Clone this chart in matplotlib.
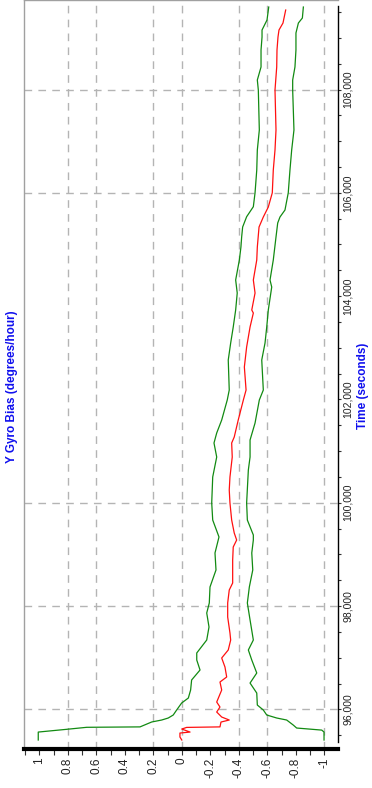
import matplotlib
matplotlib.use("Agg")
import matplotlib.pyplot as plt
from matplotlib.ticker import MultipleLocator, FixedLocator, FuncFormatter

plt.rcParams['font.family'] = ['Liberation Sans', 'DejaVu Sans']

# Estimated Y gyro bias (deg/hr) and its +/- 1 sigma envelope over time (s)
bias_time = [95406, 95464, 95541, 95560, 95618, 95650, 95660, 95754, 95793, 95851,
             95948, 96045, 96141, 96374, 96529, 96626, 96819, 96994, 97149, 97342,
             97478, 97787, 98059, 98310, 98446, 98891, 99143, 99278, 99414, 99665,
             99995, 100246, 100498, 100885, 101156, 101272, 101601, 101989, 102182,
             102628, 103015, 103402, 103673, 103731, 104060, 104312, 104700,
             104951, 105338, 105532, 105725, 106000, 106442, 106829, 107216,
             107990, 108436, 108765, 109016, 109152, 109287, 109539]
bias_value = [0.0, 0.013, 0.013, -0.058, 0.0, -0.034, -0.268, -0.275, -0.333, -0.280,
              -0.245, -0.268, -0.245, -0.280, -0.268, -0.315, -0.303, -0.280, -0.326, -0.343,
              -0.338, -0.322, -0.322, -0.333, -0.357, -0.357, -0.361, -0.385, -0.368, -0.350,
              -0.338, -0.333, -0.338, -0.354, -0.350, -0.368, -0.396, -0.432, -0.451,
              -0.439, -0.455, -0.479, -0.502, -0.491, -0.514, -0.502, -0.526,
              -0.530, -0.542, -0.572, -0.607, -0.635, -0.642, -0.654, -0.661,
              -0.654, -0.666, -0.668, -0.675, -0.682, -0.710, -0.729]

upper_time = [95406, 95560, 95613, 95652, 95660, 95755, 95793, 95832, 95890, 95987,
              96122, 96219, 96374, 96568, 96761, 96955, 97091, 97342, 97594, 97865,
              98059, 98369, 98698, 99027, 99337, 99665, 99995, 100498, 100885, 101156,
              101350, 101601, 101989, 102182, 102763, 103092, 103402, 103731, 104060,
              104312, 104700, 104951, 105144, 105338, 105537, 105731, 106000, 106442,
              106829, 107216, 107990, 108184, 108436, 108765, 109016, 109152, 109346,
              109597]
upper_value = [1.007, 1.007, 0.808, 0.667, 0.293, 0.211, 0.141, 0.095, 0.060, 0.036,
               0.001, -0.046, -0.062, -0.069, -0.128, -0.105, -0.105, -0.175, -0.191, -0.175,
               -0.193, -0.198, -0.240, -0.233, -0.261, -0.217, -0.210, -0.217, -0.245, -0.226,
               -0.245, -0.280, -0.319, -0.333, -0.326, -0.343, -0.361, -0.378, -0.389,
               -0.378, -0.404, -0.415, -0.420, -0.427, -0.455, -0.502, -0.514, -0.526,
               -0.530, -0.544, -0.537, -0.530, -0.556, -0.556, -0.563, -0.563, -0.598,
               -0.610]

lower_time = [95406, 95560, 95598, 95638, 95696, 95793, 95832, 95890, 95987, 96083,
              96315, 96509, 96703, 96955, 97149, 97342, 97730, 98059, 98369, 98698,
              99027, 99278, 99375, 99665, 99995, 100634, 100885, 101214, 101543, 101989,
              102182, 102763, 103092, 103402, 103731, 104176, 104312, 104700, 105144,
              105416, 105532, 105667, 106000, 106442, 106829, 107216, 107990, 108184,
              108436, 108765, 109094, 109287, 109384, 109597]
lower_value = [-0.998, -0.998, -0.982, -0.806, -0.782, -0.736, -0.666, -0.596, -0.572, -0.530,
               -0.526, -0.479, -0.526, -0.491, -0.467, -0.502, -0.479, -0.460, -0.474, -0.498,
               -0.491, -0.502, -0.502, -0.460, -0.455, -0.467, -0.479, -0.479, -0.514, -0.544,
               -0.572, -0.561, -0.584, -0.596, -0.607, -0.631, -0.619, -0.642, -0.661,
               -0.673, -0.689, -0.724, -0.747, -0.759, -0.771, -0.787, -0.778, -0.778,
               -0.794, -0.801, -0.801, -0.818, -0.846, -0.853]

value_ticks = [1, 0.8, 0.6, 0.4, 0.2, 0, -0.2, -0.4, -0.6, -0.8, -1]
value_grid = [0.8, 0.6, 0.2, 0, -0.4, -0.6, -1.0]
time_ticks = [96000, 98000, 100000, 102000, 104000, 106000, 108000]
time_grid = [96000, 98000, 100000, 106000, 108000]

green = '#128a12'
red = '#ff1010'
grid_color = '#b4b4b4'

fig = plt.figure(figsize=(3.72, 7.88), dpi=100)
ax = fig.add_axes([24 / 372, 39 / 788, 314 / 372, 749 / 788])

for v in value_grid:
    ax.axvline(v, color=grid_color, lw=1.0, ls=(0, (5.5, 4.5)), zorder=1)
for t in time_grid:
    ax.axhline(t, color=grid_color, lw=1.0, ls=(0, (5.5, 4.5)), zorder=1)

ax.plot(upper_value, upper_time, color=green, lw=0.9, zorder=3)
ax.plot(lower_value, lower_time, color=green, lw=0.9, zorder=3)
ax.plot(bias_value, bias_time, color=red, lw=0.9, zorder=4)

ax.set_xlim(1.107, -1.096)
ax.set_ylim(95232, 109733)

# spines
for side in ('top', 'left'):
    ax.spines[side].set_color('#a0a0a0')
    ax.spines[side].set_linewidth(1.0)
ax.spines['bottom'].set_color('black')
ax.spines['bottom'].set_linewidth(3.0)
ax.spines['right'].set_color('black')
ax.spines['right'].set_linewidth(1.0)
ax.spines['right'].set_bounds(95368, 109617)

# value axis along the bottom
ax.xaxis.set_major_locator(FixedLocator(value_ticks))
ax.xaxis.set_minor_locator(MultipleLocator(0.1))
ax.xaxis.set_major_formatter(FuncFormatter(lambda v, p: ('%g' % round(v, 1)).replace('-0', '-0') if v != 0 else '0'))
ax.tick_params(axis='x', which='both', direction='out', length=4.5, width=0.8,
               color='#333333', labelsize=8.5, labelcolor='#222222', pad=1.5,
               labelrotation=90)
for lab in ax.get_xticklabels():
    lab.set_va('top')
    lab.set_ha('center')

# time axis along the right
ax.yaxis.tick_right()
ax.yaxis.set_major_locator(FixedLocator(time_ticks))
ax.yaxis.set_minor_locator(MultipleLocator(500))
ax.yaxis.set_major_formatter(FuncFormatter(lambda t, p: f'{int(t):,}'))
ax.tick_params(axis='y', which='both', direction='out', length=2.5, width=0.8,
               color='#333333', labelsize=7.5, labelcolor='#222222', pad=1.0,
               labelrotation=90)
for lab in ax.get_yticklabels():
    lab.set_va('center')
    lab.set_ha('left')

fig.text(12 / 372, 1 - 387 / 788, 'Y Gyro Bias (degrees/hour)', rotation=90,
         ha='center', va='center', color='#1010ee', fontsize=8.5, fontweight='bold')
fig.text(363 / 372, 1 - 386 / 788, 'Time (seconds)', rotation=90,
         ha='center', va='center', color='#1010ee', fontsize=8.5, fontweight='bold')

fig.savefig('out.png', dpi=100)
